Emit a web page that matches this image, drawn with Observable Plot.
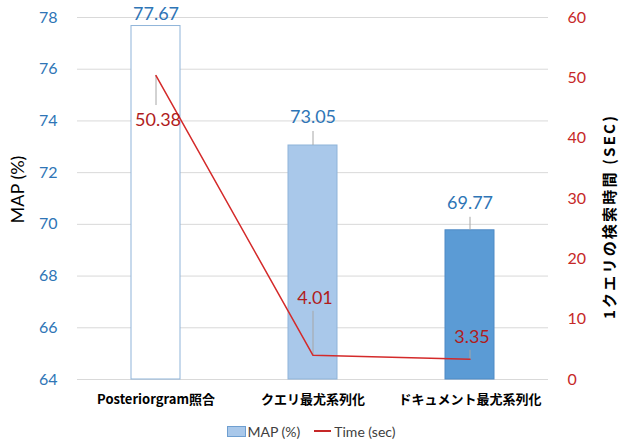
<!DOCTYPE html>
<html>
<head>
<meta charset="utf-8">
<script src="https://cdn.jsdelivr.net/npm/d3@7"></script>
<script src="https://cdn.jsdelivr.net/npm/@observablehq/plot@0.6"></script>
<style>
  body { margin: 0; background: #fff; font-family: Lato, "Noto Sans CJK JP", sans-serif; }
  #chart svg { display: block; overflow: visible; }
  .legend { height: 32px; padding-top: 6px; box-sizing: border-box; display: flex; justify-content: center; align-items: center; font-size: 14px; color: #404040; }
  .sw { display: inline-block; width: 17px; height: 9px; background: #a9c8ea; border: 1px solid #6f9fd0; margin-right: 2px; }
  .ln { display: inline-block; width: 17px; height: 2px; background: #c62828; margin: 0 3px 0 14px; }
  .rtitle text { letter-spacing: 2.2px; }
</style>
</head>
<body>
<div id="chart"></div>
<div class="legend"><span class="sw"></span><span>MAP (%)</span><span class="ln"></span><span>Time (sec)</span></div>
<script>
// ---- data ----
const categories = ["Posteriorgram照合", "クエリ最尤系列化", "ドキュメント最尤系列化"];
const mapValues = [77.67, 73.05, 69.77];
const timeValues = [50.38, 4.01, 3.35];
const mapTicks = [64, 66, 68, 70, 72, 74, 76, 78];
const timeTicks = [0, 10, 20, 30, 40, 50, 60];

// ---- style / layout ----
const W = 622, H = 412, mT = 17, mB = 33, mL = 77, mR = 74;
const yMin = 64, yMax = 78, tMax = 60;
const pxPerUnit = (H - mT - mB) / (yMax - yMin);
const barFills = ["#ffffff", "#a9c8ea", "#5b9bd5"];
const barStrokes = ["#8fb4d9", "#8fb4d9", "#4f8ac5"];
const blue = "#2e75b6", red = "#c62828", darkRed = "#b01c1c", lineRed = "#d42a2a";
const barLabelDy = [-12, -28, -27];
const barLeader = [0, 14, 13];
const timeLabelDy = [45, -57, -22];
const timeLeader = [-30, 44, 9];

const toY = t => yMin + t * (yMax - yMin) / tMax;

const bars = categories.map((c, i) => ({cat: c, map: mapValues[i], fill: barFills[i], stroke: barStrokes[i], i}));
const times = categories.map((c, i) => ({cat: c, t: timeValues[i], y: toY(timeValues[i]), i}));

const marks = [
  Plot.gridY(mapTicks, {stroke: "#d9d9d9", strokeOpacity: 1}),
  Plot.barY(bars, {x: "cat", y1: yMin, y2: "map", fill: "fill", stroke: "stroke", strokeWidth: 1}),
  Plot.axisY(mapTicks, {anchor: "left", tickSize: 0, tickPadding: 20, fontSize: 16, fill: blue, label: null, fontFamily: "Lato, sans-serif"}),
  Plot.axisY(timeTicks.map(toY), {anchor: "right", tickSize: 0, tickPadding: 19, fontSize: 16, fill: red, label: null,
    tickFormat: d => Math.round((d - yMin) * tMax / (yMax - yMin)), fontFamily: "Lato, sans-serif"}),
  Plot.axisX({tickSize: 0, tickPadding: 15, fontSize: 13, fontWeight: "bold", fill: "#000", label: null,
    fontFamily: "'Noto Sans CJK JP', sans-serif"}),
  Plot.text(["MAP (%)"], {frameAnchor: "left", textAnchor: "middle", rotate: -90, dx: -59, dy: -9, fontSize: 18, fill: "#000"}),
  Plot.text(["1クエリの検索時間 (SEC)"], {frameAnchor: "right", textAnchor: "middle", rotate: -90, dx: 62, dy: 18, fontSize: 15, fontWeight: "bold", fill: "#000",
    fontFamily: "'Noto Sans CJK JP', sans-serif", className: "rtitle"})
];

bars.forEach((d, i) => {
  if (barLeader[i] > 0) {
    marks.push(Plot.ruleX([d], {x: "cat", y1: "map", y2: d2 => d2.map + barLeader[i] / pxPerUnit, stroke: "#a6a6a6", strokeWidth: 1}));
  }
  marks.push(Plot.text([d], {x: "cat", y: "map", text: d2 => d2.map.toFixed(2), dy: barLabelDy[i], fontSize: 18, fill: blue}));
});
times.forEach((d, i) => {
  marks.push(Plot.ruleX([d], {x: "cat", y1: "y", y2: d2 => d2.y + timeLeader[i] / pxPerUnit, stroke: "#a6a6a6", strokeWidth: 1}));
});
marks.push(Plot.line(times, {x: "cat", y: "y", stroke: lineRed, strokeWidth: 1.5}));
times.forEach((d, i) => {
  marks.push(Plot.text([d], {x: "cat", y: "y", text: d2 => d2.t.toFixed(2), dy: timeLabelDy[i], dx: 2, fontSize: 18, fill: darkRed}));
});

const chart = Plot.plot({
  width: W, height: H, marginTop: mT, marginBottom: mB, marginLeft: mL, marginRight: mR,
  style: {fontFamily: "Lato, 'Noto Sans CJK JP', sans-serif", background: "#fff"},
  x: {type: "band", domain: categories, paddingInner: 0.69, paddingOuter: 0.345, axis: null},
  y: {domain: [yMin, yMax], axis: null},
  marks
});
document.getElementById("chart").appendChild(chart);
</script>
</body>
</html>
